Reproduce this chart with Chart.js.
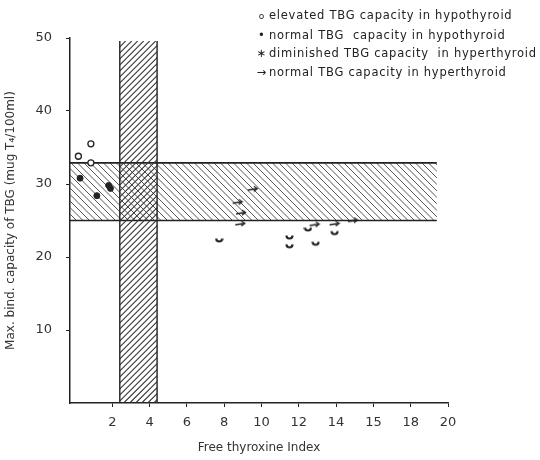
<!DOCTYPE html>
<html>
<head>
<meta charset="utf-8">
<script src="https://cdn.jsdelivr.net/npm/chart.js@4"></script>
<style>
body { margin: 0; background: #fff; }
#wrap { position: relative; width: 540px; height: 460px; }
#legend { position: absolute; left: 254px; top: 6px; font: 11.5px "DejaVu Sans", sans-serif; color: #222; line-height: 18.5px; letter-spacing: 0.75px; }
#legend div { white-space: nowrap; }
#legend span { display: inline-block; width: 15px; text-align: center; letter-spacing: 0; }
</style>
</head>
<body>
<div id="wrap">
<canvas id="tbg-chart" width="540" height="460"></canvas>
<div id="legend">
  <div><span style="font-size:9px">o</span>elevated TBG capacity in hypothyroid</div>
  <div><span>&bull;</span>normal TBG&nbsp; capacity in hypothyroid</div>
  <div><span>&lowast;</span>diminished TBG capacity&nbsp; in hyperthyroid</div>
  <div><span>&rarr;</span>normal TBG capacity in hyperthyroid</div>
</div>
</div>
<script>
// values
const xTickValues = [2, 4, 6, 8, 10, 12, 14, 16, 18, 20];
const xTickLabels = ["2", "4", "6", "8", "10", "12", "14", "15", "18", "20"];
const yTickValues = [10, 20, 30, 40, 50];

const elevatedHypoX = [0.85, 0.18, 0.85];
const elevatedHypoY = [35.5, 33.8, 32.9];
const normalHypoX = [0.27, 1.8, 1.9, 1.17];
const normalHypoY = [30.8, 29.8, 29.4, 28.4];
const diminishedHyperX = [7.73, 11.5, 11.5, 12.49, 12.9, 13.92];
const diminishedHyperY = [22.4, 22.8, 21.6, 23.9, 21.95, 23.4];
const normalHyperX = [9.53, 8.72, 8.9, 8.86, 12.85, 13.92, 14.9];
const normalHyperY = [29.3, 27.5, 26.05, 24.55, 24.45, 24.55, 25.0];

// normal ranges (hatched bands)
const normalTBG = [25, 32.9];
const normalTBGxEnd = 19.4;
const normalFTI = [2.4, 4.4];
const normalFTItop = 49.6;

const ink = "#222";

function pts(xs, ys) {
    return xs.map((x, i) => ({ x: x, y: ys[i] }));
}

function cupMarker() {
    const c = document.createElement("canvas");
    c.width = 9; c.height = 9;
    const g = c.getContext("2d");
    g.strokeStyle = ink;
    g.lineWidth = 2.2;
    g.beginPath();
    g.arc(4.5, 3.5, 3, 0, Math.PI);
    g.stroke();
    return c;
}

function arrowMarker() {
    const c = document.createElement("canvas");
    c.width = 12; c.height = 8;
    const g = c.getContext("2d");
    g.strokeStyle = ink;
    g.lineWidth = 1.3;
    g.beginPath();
    g.moveTo(1, 5); g.lineTo(10.5, 3.5);
    g.moveTo(7, 1.2); g.lineTo(10.5, 3.5); g.lineTo(7, 6.3);
    g.stroke();
    return c;
}

function hatch(ctx, l, t, r, b, dir, step) {
    ctx.save();
    ctx.beginPath();
    ctx.rect(l, t, r - l, b - t);
    ctx.clip();
    const h = b - t;
    ctx.beginPath();
    for (let x = l - h; x < r + h; x += step) {
        if (dir < 0) { ctx.moveTo(x, t); ctx.lineTo(x + h, b); }
        else { ctx.moveTo(x, b); ctx.lineTo(x + h, t); }
    }
    ctx.stroke();
    ctx.restore();
}

const bandPlugin = {
    id: "bands",
    beforeDatasetsDraw(chart) {
        const ctx = chart.ctx;
        const xs = chart.scales.x, ys = chart.scales.y;
        ctx.save();
        ctx.strokeStyle = "#555";
        ctx.lineWidth = 1;
        // horizontal band
        let l = xs.left, r = xs.getPixelForValue(normalTBGxEnd);
        let t = ys.getPixelForValue(normalTBG[1]), b = ys.getPixelForValue(normalTBG[0]);
        hatch(ctx, l, t, r, b, -1, 6.5);
        ctx.strokeStyle = ink;
        ctx.lineWidth = 1.6;
        ctx.beginPath();
        ctx.moveTo(l, t); ctx.lineTo(r, t);
        ctx.moveTo(l, b); ctx.lineTo(r, b);
        ctx.stroke();
        // vertical band
        ctx.strokeStyle = "#333";
        ctx.lineWidth = 1.1;
        l = xs.getPixelForValue(normalFTI[0]); r = xs.getPixelForValue(normalFTI[1]);
        t = ys.getPixelForValue(normalFTItop); b = ys.getPixelForValue(0);
        hatch(ctx, l, t, r, b, 1, 6);
        ctx.strokeStyle = ink;
        ctx.lineWidth = 1.4;
        ctx.beginPath();
        ctx.moveTo(l, t); ctx.lineTo(l, b);
        ctx.moveTo(r, t); ctx.lineTo(r, b);
        ctx.stroke();
        ctx.restore();
    }
};

const tickFont = { family: "DejaVu Sans", size: 13 };
const titleFont = { family: "DejaVu Sans", size: 12 };

new Chart(document.getElementById("tbg-chart"), {
    type: "scatter",
    data: {
        datasets: [
            {
                label: "elevated TBG capacity in hypothyroid",
                data: pts(elevatedHypoX, elevatedHypoY),
                pointStyle: "circle",
                pointRadius: 3,
                borderColor: ink,
                borderWidth: 1.3,
                backgroundColor: "#fff",
            },
            {
                label: "normal TBG capacity in hypothyroid",
                data: pts(normalHypoX, normalHypoY),
                pointStyle: "circle",
                pointRadius: 3,
                borderColor: ink,
                backgroundColor: ink,
            },
            {
                label: "diminished TBG capacity in hyperthyroid",
                data: pts(diminishedHyperX, diminishedHyperY),
                pointStyle: cupMarker(),
            },
            {
                label: "normal TBG capacity in hyperthyroid",
                data: pts(normalHyperX, normalHyperY),
                pointStyle: arrowMarker(),
            },
        ],
    },
    options: {
        responsive: false,
        animation: false,
        layout: { padding: { left: 0, right: 92, top: 38, bottom: 0 } },
        plugins: {
            legend: { display: false },
            tooltip: { enabled: false },
        },
        scales: {
            x: {
                type: "linear",
                min: -0.27,
                max: 20,
                afterBuildTicks: (s) => { s.ticks = xTickValues.map((v) => ({ value: v })); },
                afterFit: (s) => { s.height = 57; },
                grid: { drawOnChartArea: false, color: ink, tickLength: 4 },
                border: { color: ink, width: 1.5 },
                ticks: {
                    color: "#333",
                    font: tickFont,
                    padding: 8,
                    callback: (v) => xTickLabels[xTickValues.indexOf(v)],
                },
                title: {
                    display: true,
                    text: "Free thyroxine Index",
                    color: "#333",
                    font: titleFont,
                    padding: { top: 4, bottom: 5 },
                },
            },
            y: {
                min: 0,
                max: 50,
                afterBuildTicks: (s) => { s.ticks = yTickValues.map((v) => ({ value: v })); },
                afterFit: (s) => { s.width = 70; },
                grid: { drawOnChartArea: false, color: ink, tickLength: 4 },
                border: { color: ink, width: 1.5 },
                ticks: { color: "#333", font: tickFont, padding: 14 },
                title: {
                    display: true,
                    text: "Max. bind. capacity of TBG (mug T\u2084/100ml)",
                    color: "#333",
                    font: titleFont,
                    padding: { top: 4, bottom: 4 },
                },
            },
        },
    },
    plugins: [bandPlugin],
});
</script>
</body>
</html>
